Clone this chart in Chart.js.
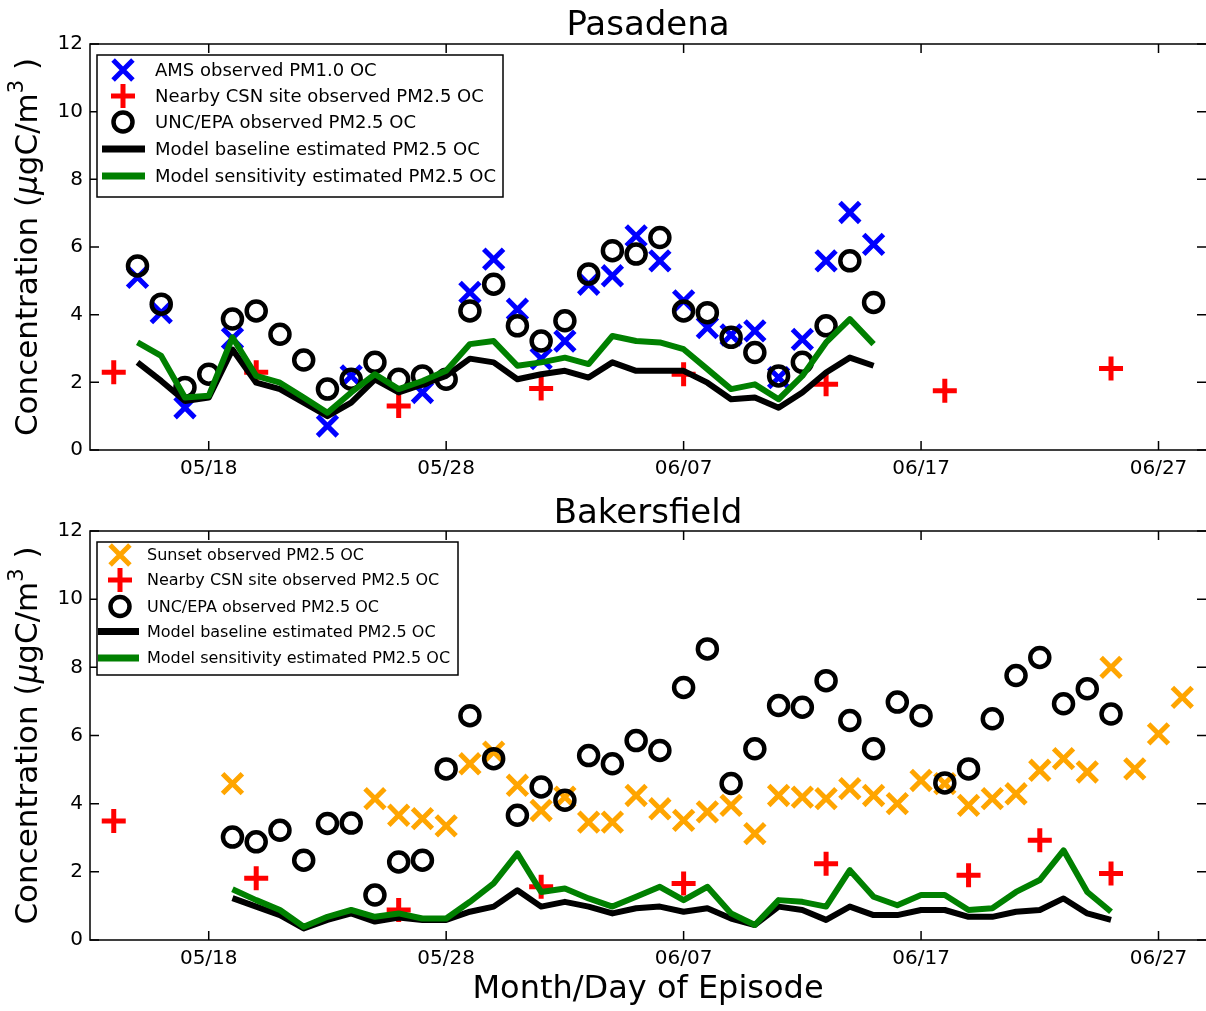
<!DOCTYPE html>
<html>
<head>
<meta charset="utf-8">
<script src="https://cdn.jsdelivr.net/npm/chart.js@4.4.0/dist/chart.umd.min.js"></script>
<style>
body { margin: 0; background: #fff; }
#wrap { position: relative; width: 1206px; height: 1011px; }
canvas { position: absolute; left: 0; }
</style>
</head>
<body>
<div id="wrap">
  <canvas id="pas" width="1206" height="480" style="top:0px"></canvas>
  <canvas id="bak" width="1206" height="531" style="top:480px"></canvas>
</div>
<script>
// x values are days counted from 05/13 (so day 5 = 05/18)
const xTickDays = [5, 15, 25, 35, 45];
const xTickLabels = ['05/18', '05/28', '06/07', '06/17', '06/27'];
const yTicks = [0, 2, 4, 6, 8, 10, 12];

// ---- Pasadena ----
const pasAmsDays = [2, 3, 4, 6, 10, 11, 14, 16, 17, 18, 19, 20, 21, 22, 23, 24, 25, 26, 27, 28, 29, 30, 31, 32, 33];
const pasAmsOC   = [5.1, 4.06, 1.25, 3.3, 0.71, 2.19, 1.7, 4.66, 5.64, 4.16, 2.7, 3.22, 4.9, 5.15, 6.33, 5.59, 4.41, 3.62, 3.4, 3.52, 2.14, 3.27, 5.59, 7.02, 6.08];

const pasCsnDays = [1, 7, 13, 19, 25, 31, 36, 43];
const pasCsnOC   = [2.3, 2.3, 1.3, 1.82, 2.24, 1.94, 1.75, 2.41];

const pasUncDays = [2, 3, 4, 5, 6, 7, 8, 9, 10, 11, 12, 13, 14, 15, 16, 17, 18, 19, 20, 21, 22, 23, 24, 25, 26, 27, 28, 29, 30, 31, 32, 33];
const pasUncOC   = [5.44, 4.31, 1.85, 2.24, 3.87, 4.11, 3.42, 2.66, 1.8, 2.09, 2.59, 2.09, 2.19, 2.09, 4.11, 4.9, 3.67, 3.22, 3.82, 5.2, 5.89, 5.79, 6.28, 4.11, 4.06, 3.33, 2.88, 2.19, 2.59, 3.67, 5.59, 4.36];

const pasModelDays = [2, 3, 4, 5, 6, 7, 8, 9, 10, 11, 12, 13, 14, 15, 16, 17, 18, 19, 20, 21, 22, 23, 24, 25, 26, 27, 28, 29, 30, 31, 32, 33];
const pasBaseOC = [2.59, 2.04, 1.45, 1.55, 2.97, 1.99, 1.8, 1.4, 1.0, 1.4, 2.09, 1.7, 1.94, 2.19, 2.7, 2.59, 2.09, 2.24, 2.34, 2.14, 2.59, 2.34, 2.34, 2.34, 1.99, 1.5, 1.55, 1.25, 1.7, 2.29, 2.73, 2.49];
const pasSensOC = [3.18, 2.78, 1.55, 1.6, 3.33, 2.19, 1.99, 1.55, 1.1, 1.7, 2.24, 1.8, 2.04, 2.34, 3.13, 3.22, 2.49, 2.59, 2.73, 2.54, 3.37, 3.22, 3.18, 2.98, 2.39, 1.8, 1.94, 1.5, 2.19, 3.18, 3.87, 3.13];

// ---- Bakersfield ----
const bakSunDays = [6, 12, 13, 14, 15, 16, 17, 18, 19, 20, 21, 22, 23, 24, 25, 26, 27, 28, 29, 30, 31, 32, 33, 34, 35, 36, 37, 38, 39, 40, 41, 42, 43, 44, 45, 46];
const bakSunOC   = [4.59, 4.15, 3.66, 3.56, 3.35, 5.17, 5.51, 4.54, 3.8, 4.19, 3.46, 3.46, 4.24, 3.85, 3.51, 3.76, 3.95, 3.12, 4.24, 4.19, 4.15, 4.44, 4.24, 4.0, 4.68, 4.59, 3.95, 4.15, 4.29, 4.98, 5.32, 4.93, 8.0, 5.02, 6.05, 7.12];

const bakCsnDays = [1, 7, 13, 19, 25, 31, 37, 40, 43];
const bakCsnOC   = [3.49, 1.81, 0.88, 1.56, 1.66, 2.24, 1.9, 2.93, 1.95];

const bakUncDays = [6, 7, 8, 9, 10, 11, 12, 13, 14, 15, 16, 17, 18, 19, 20, 21, 22, 23, 24, 25, 26, 27, 28, 29, 30, 31, 32, 33, 34, 35, 36, 37, 38, 39, 40, 41, 42, 43];
const bakUncOC   = [3.02, 2.88, 3.22, 2.34, 3.42, 3.43, 1.32, 2.29, 2.34, 5.02, 6.58, 5.32, 3.66, 4.49, 4.1, 5.41, 5.17, 5.85, 5.56, 7.41, 8.54, 4.59, 5.61, 6.88, 6.83, 7.61, 6.44, 5.61, 6.98, 6.58, 4.61, 5.02, 6.49, 7.76, 8.29, 6.93, 7.37, 6.63];

const bakModelDays = [6, 7, 8, 9, 10, 11, 12, 13, 14, 15, 16, 17, 18, 19, 20, 21, 22, 23, 24, 25, 26, 27, 28, 29, 30, 31, 32, 33, 34, 35, 36, 37, 38, 39, 40, 41, 42, 43];
const bakBaseOC = [1.23, 0.98, 0.73, 0.34, 0.59, 0.78, 0.54, 0.66, 0.59, 0.59, 0.83, 0.98, 1.46, 0.98, 1.12, 0.98, 0.78, 0.93, 0.98, 0.83, 0.93, 0.63, 0.44, 0.98, 0.88, 0.59, 0.98, 0.73, 0.73, 0.88, 0.88, 0.68, 0.68, 0.83, 0.88, 1.22, 0.78, 0.59];
const bakSensOC = [1.49, 1.17, 0.88, 0.39, 0.68, 0.88, 0.68, 0.78, 0.63, 0.63, 1.12, 1.66, 2.54, 1.41, 1.51, 1.22, 0.98, 1.27, 1.56, 1.17, 1.56, 0.78, 0.44, 1.17, 1.12, 0.98, 2.05, 1.27, 1.02, 1.32, 1.32, 0.88, 0.93, 1.41, 1.76, 2.63, 1.41, 0.83];

const FONT = 'DejaVu Sans';
Chart.defaults.color = '#000';
Chart.defaults.font.family = FONT;

function toPoints(days, vals) {
    return days.map((d, i) => ({ x: d, y: vals[i] }));
}

// marker sizes per style: [radius, line width]
const markerSize = { crossRot: [14, 5], cross: [12, 5], circle: [9.5, 4.5] };

function markerSet(label, days, vals, style, color, order) {
    return {
        label: label,
        data: toPoints(days, vals),
        showLine: false,
        pointStyle: style,
        pointRadius: markerSize[style][0],
        pointHoverRadius: markerSize[style][0],
        pointBorderWidth: markerSize[style][1],
        pointBorderColor: color,
        pointBackgroundColor: 'rgba(0,0,0,0)',
        order: order,
        clip: false
    };
}

function lineSet(label, days, vals, color, order) {
    return {
        label: label,
        data: toPoints(days, vals),
        showLine: true,
        borderColor: color,
        borderWidth: 6,
        borderJoinStyle: 'round',
        pointRadius: 0,
        pointHoverRadius: 0,
        tension: 0,
        order: order
    };
}

function drawMarker(ctx, style, r, x, y) {
    ctx.beginPath();
    if (style === 'circle') {
        ctx.arc(x, y, r, 0, Math.PI * 2);
    } else if (style === 'cross') {
        ctx.moveTo(x - r, y); ctx.lineTo(x + r, y);
        ctx.moveTo(x, y - r); ctx.lineTo(x, y + r);
    } else {
        const d = r * Math.SQRT1_2;
        ctx.moveTo(x - d, y - d); ctx.lineTo(x + d, y + d);
        ctx.moveTo(x + d, y - d); ctx.lineTo(x - d, y + d);
    }
    ctx.stroke();
}

// y axis title with italic mu and superscript 3
function drawYTitle(ctx, cx, cy) {
    const parts = [
        ['Concentration (', '31px "' + FONT + '"', 0],
        ['\u03bc', 'italic 31px "' + FONT + '"', 0],
        ['gC/m', '31px "' + FONT + '"', 0],
        ['3', '21px "' + FONT + '"', -11],
        [' )', '31px "' + FONT + '"', 0]
    ];
    let total = 0;
    parts.forEach(p => { ctx.font = p[1]; total += ctx.measureText(p[0]).width; });
    ctx.save();
    ctx.translate(cx, cy);
    ctx.rotate(-Math.PI / 2);
    ctx.textBaseline = 'middle';
    ctx.textAlign = 'left';
    let x = -total / 2;
    parts.forEach(p => {
        ctx.font = p[1];
        ctx.fillText(p[0], x, p[2]);
        x += ctx.measureText(p[0]).width;
    });
    ctx.restore();
}

// frame, inward ticks, titles and legend in matplotlib style
// (the right spine lies just past the picture edge, so only its ticks show)
const framePlugin = {
    id: 'frame',
    afterDraw(chart, args, opts) {
        const ctx = chart.ctx;
        const a = chart.chartArea;
        const xs = chart.scales.x, ys = chart.scales.y;
        ctx.save();
        ctx.strokeStyle = '#000';
        ctx.lineWidth = 1.5;
        ctx.beginPath();
        ctx.moveTo(a.right + 2, a.top); ctx.lineTo(a.left, a.top);
        ctx.lineTo(a.left, a.bottom); ctx.lineTo(a.right + 2, a.bottom);
        ctx.stroke();
        ctx.beginPath();
        xTickDays.forEach(d => {
            const px = xs.getPixelForValue(d);
            ctx.moveTo(px, a.bottom); ctx.lineTo(px, a.bottom - 9);
            ctx.moveTo(px, a.top); ctx.lineTo(px, a.top + 9);
        });
        yTicks.forEach(v => {
            const py = ys.getPixelForValue(v);
            ctx.moveTo(a.left, py); ctx.lineTo(a.left + 9, py);
            ctx.moveTo(a.right, py); ctx.lineTo(a.right - 9, py);
        });
        ctx.stroke();

        // panel title
        ctx.fillStyle = '#000';
        ctx.font = '34px "' + FONT + '"';
        ctx.textAlign = 'center';
        ctx.textBaseline = 'alphabetic';
        ctx.fillText(opts.title, (a.left + a.right) / 2, opts.titleY);

        drawYTitle(ctx, 29, (a.top + a.bottom) / 2);

        if (opts.xTitle) {
            ctx.font = '32px "' + FONT + '"';
            ctx.textAlign = 'center';
            ctx.textBaseline = 'middle';
            ctx.fillText(opts.xTitle, (a.left + a.right) / 2, opts.xTitleY);
        }

        // legend box
        const lg = opts.legend;
        ctx.fillStyle = '#fff';
        ctx.fillRect(lg.x, lg.y, lg.w, lg.h);
        ctx.lineWidth = 1.5;
        ctx.strokeStyle = '#000';
        ctx.strokeRect(lg.x, lg.y, lg.w, lg.h);
        ctx.font = lg.fontSize + 'px "' + FONT + '"';
        ctx.textAlign = 'left';
        ctx.textBaseline = 'middle';
        chart.data.datasets.forEach((ds, i) => {
            const ry = lg.rowY[i];
            if (ds.showLine) {
                ctx.strokeStyle = ds.borderColor;
                ctx.lineWidth = 7;
                ctx.beginPath();
                ctx.moveTo(lg.lineX0, ry); ctx.lineTo(lg.lineX1, ry);
                ctx.stroke();
            } else {
                ctx.strokeStyle = ds.pointBorderColor;
                ctx.lineWidth = ds.pointBorderWidth;
                drawMarker(ctx, ds.pointStyle, ds.pointRadius, lg.markerX, ry);
            }
            ctx.fillStyle = '#000';
            ctx.fillText(ds.label, lg.textX, ry + 1);
        });
        ctx.restore();
    }
};

function makeChart(id, datasets, xAxisHeight, padTop, frameOpts) {
    return new Chart(document.getElementById(id), {
        type: 'scatter',
        data: { datasets: datasets },
        options: {
            responsive: false,
            animation: false,
            devicePixelRatio: 1,
            layout: { autoPadding: false, padding: { top: padTop, left: 0, right: 0, bottom: 0 } },
            plugins: {
                legend: { display: false },
                title: { display: false },
                tooltip: { enabled: false },
                frame: frameOpts
            },
            scales: {
                x: {
                    type: 'linear',
                    min: 0,
                    max: 47,
                    afterBuildTicks: s => { s.ticks = xTickDays.map(v => ({ value: v })); },
                    afterFit: s => {
                        s.height = xAxisHeight;
                        s.paddingLeft = 0;
                        s.paddingRight = 0;
                    },
                    ticks: {
                        callback: (v, i) => xTickLabels[i],
                        font: { size: 20 },
                        color: '#000',
                        padding: 7,
                        maxRotation: 0,
                        autoSkip: false
                    },
                    grid: { display: false, drawTicks: false },
                    border: { display: false }
                },
                y: {
                    min: 0,
                    max: 12,
                    afterFit: s => { s.width = 90; },
                    ticks: { stepSize: 2, font: { size: 20 }, color: '#000', padding: 7 },
                    grid: { display: false, drawTicks: false },
                    border: { display: false }
                }
            }
        },
        plugins: [framePlugin]
    });
}

// later datasets in the legend are drawn on top (lower order = on top)
makeChart('pas', [
    markerSet('AMS observed PM1.0 OC', pasAmsDays, pasAmsOC, 'crossRot', '#0000ff', 5),
    markerSet('Nearby CSN site observed PM2.5 OC', pasCsnDays, pasCsnOC, 'cross', '#ff0000', 4),
    markerSet('UNC/EPA observed PM2.5 OC', pasUncDays, pasUncOC, 'circle', '#000000', 3),
    lineSet('Model baseline estimated PM2.5 OC', pasModelDays, pasBaseOC, '#000000', 2),
    lineSet('Model sensitivity estimated PM2.5 OC', pasModelDays, pasSensOC, '#008000', 1)
], 30, 44, {
    title: 'Pasadena',
    titleY: 35,
    legend: { x: 97, y: 55, w: 406, h: 142, rowY: [70, 96, 122, 149, 176], markerX: 123, lineX0: 102, lineX1: 145, textX: 155, fontSize: 18 }
});

makeChart('bak', [
    markerSet('Sunset observed PM2.5 OC', bakSunDays, bakSunOC, 'crossRot', '#ffa500', 5),
    markerSet('Nearby CSN site observed PM2.5 OC', bakCsnDays, bakCsnOC, 'cross', '#ff0000', 4),
    markerSet('UNC/EPA observed PM2.5 OC', bakUncDays, bakUncOC, 'circle', '#000000', 3),
    lineSet('Model baseline estimated PM2.5 OC', bakModelDays, bakBaseOC, '#000000', 2),
    lineSet('Model sensitivity estimated PM2.5 OC', bakModelDays, bakSensOC, '#008000', 1)
], 71, 51, {
    title: 'Bakersfield',
    titleY: 43,
    xTitle: 'Month/Day of Episode',
    xTitleY: 510,
    legend: { x: 97, y: 62, w: 361, h: 133, rowY: [75, 100, 126.5, 151.5, 178], markerX: 120, lineX0: 98, lineX1: 139, textX: 147, fontSize: 16 }
});
</script>
</body>
</html>
